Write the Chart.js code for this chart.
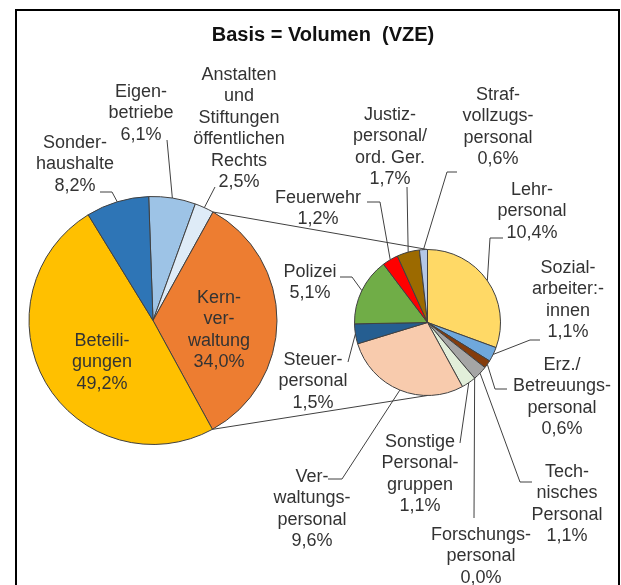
<!DOCTYPE html>
<html>
<head>
<meta charset="utf-8">
<script src="https://cdn.jsdelivr.net/npm/chart.js"></script>
<style>
body{margin:0;background:#fff;}
#wrap{position:relative;width:621px;height:585px;}
#wrap canvas{position:absolute;left:0;top:0;}
</style>
</head>
<body>
<div id="wrap">
  <canvas id="mainPie" width="621" height="585"></canvas>
  <canvas id="subPie" width="621" height="585"></canvas>
</div>
<script>
const title = "Basis = Volumen  (VZE)";

// Hauptkreis (Anteile in %)
const mainNames = ["Eigen-\nbetriebe", "Anstalten\nund\nStiftungen\nöffentlichen\nRechts", "Kern-\nver-\nwaltung", "Beteili-\ngungen", "Sonder-\nhaushalte"];
const mainValues = [6.1, 2.5, 34.0, 49.2, 8.2];
const mainColors = ["#9DC3E6", "#DEEBF7", "#ED7D31", "#FFC000", "#2E75B6"];

// Aufteilung Kernverwaltung (Anteile in % vom Gesamt)
const subNames = ["Lehr-\npersonal", "Sozial-\narbeiter:-\ninnen", "Erz./\nBetreuungs-\npersonal", "Tech-\nnisches\nPersonal",
  "Forschungs-\npersonal", "Sonstige\nPersonal-\ngruppen", "Ver-\nwaltungs-\npersonal", "Steuer-\npersonal",
  "Polizei", "Feuerwehr", "Justiz-\npersonal/\nord. Ger.", "Straf-\nvollzugs-\npersonal"];
const subValues = [10.4, 1.1, 0.6, 1.1, 0.0, 1.1, 9.6, 1.5, 5.1, 1.2, 1.7, 0.6];
const subColors = ["#FFD966", "#6FA8DC", "#843C0C", "#A5A5A5", "#C9C9C9", "#E2EFDA", "#F8CBAD", "#255E91",
  "#70AD47", "#FF0000", "#9C6A00", "#B4C7E7"];

// Beschriftungen: Mitte x, erste Zeile y, Führungslinie (endet am Segment)
const mainLabelPos = [
  {x:141, y:92, leader:[[167,140]]},
  {x:239, y:75, leader:[[215,187]]},
  {x:219, y:298},
  {x:102, y:341},
  {x:75, y:143, leader:[[100,192],[112,192]]}
];
const subLabelPos = [
  {x:532, y:190, leader:[[503,238],[490,238]]},
  {x:568, y:268, leader:[[540,340],[530,340]]},
  {x:562, y:365, leader:[[507,389],[495,389]]},
  {x:567, y:472, leader:[[532,482],[520,482]]},
  {x:481, y:535, leader:[[474,518]]},
  {x:420, y:442, leader:[[460,443]]},
  {x:312, y:477, leader:[[328,479],[342,479]]},
  {x:313, y:360, leader:[[348,362]]},
  {x:310, y:272, leader:[[340,277],[352,277]]},
  {x:318, y:198, leader:[[367,202],[380,202]]},
  {x:390, y:115, leader:[[407,187]]},
  {x:498, y:95, leader:[[457,172],[447,172]]}
];

const FONT = '"Liberation Sans", Arial, sans-serif';
const LH = 21.5;
const fmt = v => v.toFixed(1).replace(".", ",") + "%";

function drawLabels(ctx, chart, names, values, pos){
  const arcs = chart.getDatasetMeta(0).data;
  names.forEach((n,i)=>{
    const p = pos[i];
    const lines = n.split("\n").concat(fmt(values[i]));
    lines.forEach((t,k)=>ctx.fillText(t, p.x, p.y + k*LH));
    if(p.leader){
      const a = arcs[i];
      const m = (a.startAngle + a.endAngle)/2;
      ctx.beginPath();
      ctx.moveTo(p.leader[0][0], p.leader[0][1]);
      p.leader.slice(1).forEach(q=>ctx.lineTo(q[0], q[1]));
      ctx.lineTo(a.x + Math.cos(m)*a.outerRadius, a.y + Math.sin(m)*a.outerRadius);
      ctx.stroke();
    }
  });
}

const mainChart = new Chart(document.getElementById("mainPie"), {
  type: "pie",
  data: {labels: mainNames, datasets: [{data: mainValues, backgroundColor: mainColors, borderColor: "#404040", borderWidth: 1}]},
  options: {
    responsive: false, animation: false, rotation: -2,
    layout: {padding: {left:28, right:343, top:196, bottom:140}},
    plugins: {legend: {display:false}, tooltip: {enabled:false}}
  }
});

const overlay = {
  id: "overlay",
  afterDraw(chart){
    const ctx = chart.ctx;
    ctx.save();
    // Rahmen
    ctx.strokeStyle = "#000";
    ctx.lineWidth = 2;
    ctx.strokeRect(16, 10, 603, 600);
    // Titel
    ctx.fillStyle = "#111";
    ctx.textAlign = "center";
    ctx.textBaseline = "middle";
    ctx.font = "bold 20px " + FONT;
    ctx.fillText(title, 323, 35);
    // Verbindungslinien zwischen den Kreisen
    const kern = mainChart.getDatasetMeta(0).data[2];
    const s = chart.getDatasetMeta(0).data[0];
    ctx.strokeStyle = "#404040";
    ctx.lineWidth = 1;
    ctx.beginPath();
    ctx.moveTo(kern.x + Math.cos(kern.startAngle)*kern.outerRadius, kern.y + Math.sin(kern.startAngle)*kern.outerRadius);
    ctx.lineTo(s.x, s.y - s.outerRadius);
    ctx.moveTo(kern.x + Math.cos(kern.endAngle)*kern.outerRadius, kern.y + Math.sin(kern.endAngle)*kern.outerRadius);
    ctx.lineTo(s.x, s.y + s.outerRadius);
    ctx.stroke();
    // Beschriftungen
    ctx.font = "18px " + FONT;
    ctx.fillStyle = "#333";
    drawLabels(ctx, mainChart, mainNames, mainValues, mainLabelPos);
    drawLabels(ctx, chart, subNames, subValues, subLabelPos);
    ctx.restore();
  }
};

new Chart(document.getElementById("subPie"), {
  type: "pie",
  data: {labels: subNames, datasets: [{data: subValues, backgroundColor: subColors, borderColor: "#404040", borderWidth: 1}]},
  options: {
    responsive: false, animation: false, rotation: 0,
    layout: {padding: {left:354, right:120, top:249, bottom:189}},
    plugins: {legend: {display:false}, tooltip: {enabled:false}}
  },
  plugins: [overlay]
});
</script>
</body>
</html>
